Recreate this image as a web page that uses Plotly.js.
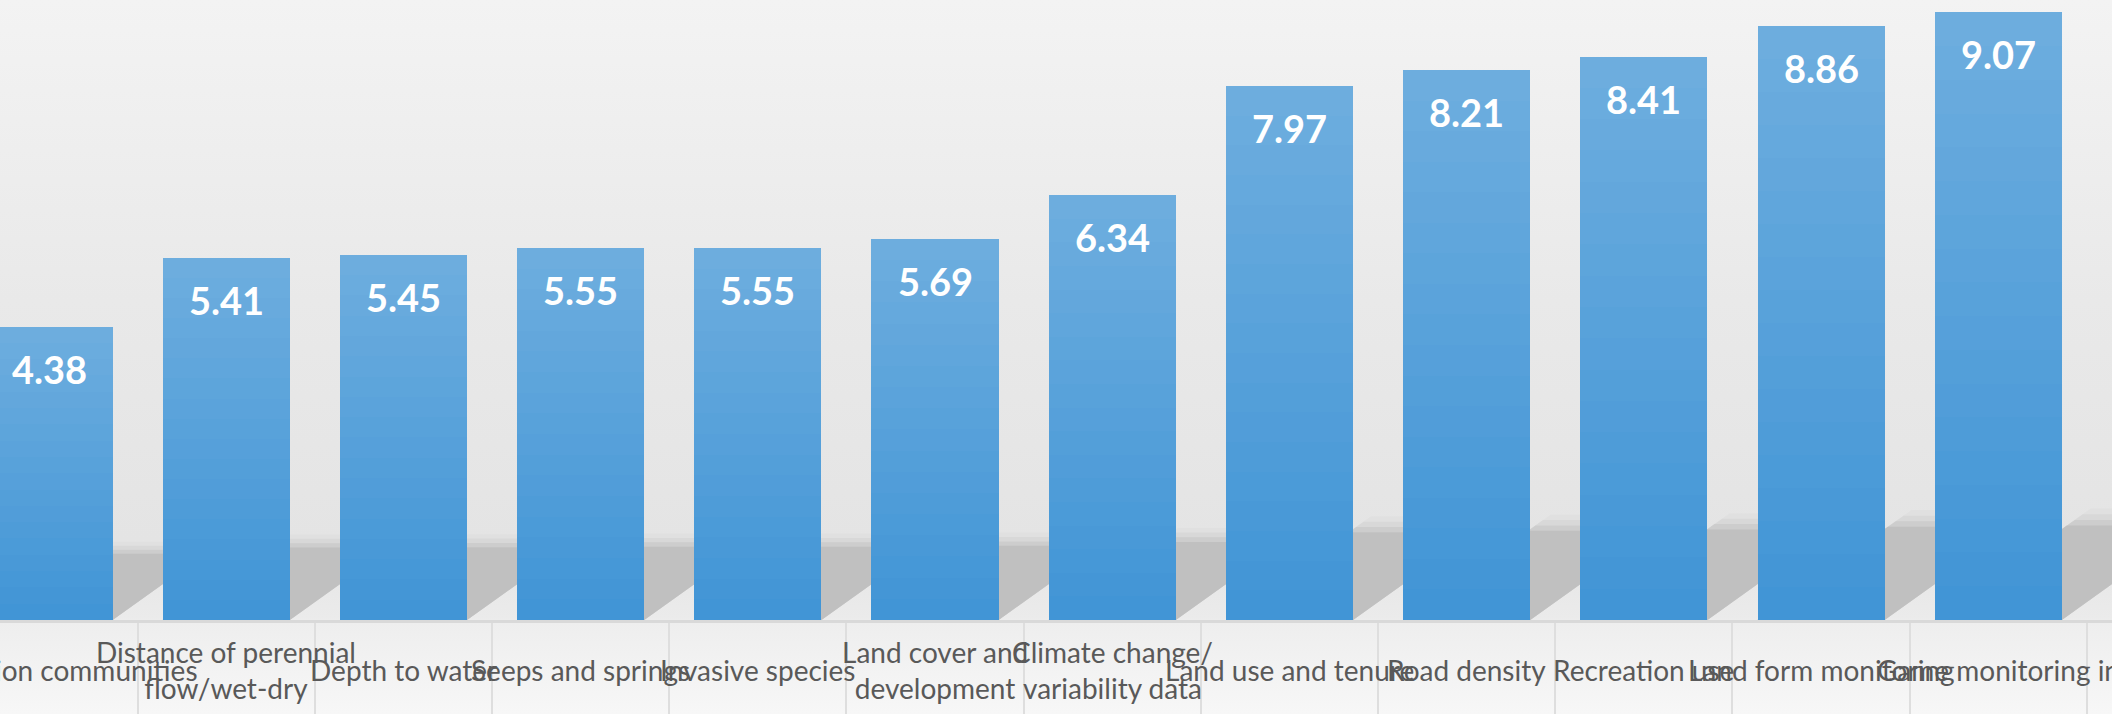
<!DOCTYPE html>
<html>
<head>
<meta charset="utf-8">
<script src="https://cdn.plot.ly/plotly-3.0.1.min.js"></script>
<style>
  html, body { margin: 0; padding: 0; }
  #chart {
    width: 2112px; height: 714px;
    background: linear-gradient(to bottom, #f3f3f3 0px, #e9e9e9 300px, #e4e4e4 540px, #ebebeb 618px, #eeeeee 623px, #f7f7f7 714px);
  }
</style>
</head>
<body>
<div id="chart"></div>
<script>
// ---- data ----
const categories = [
  "Vegetation communities",
  "Distance of perennial flow/wet-dry",
  "Depth to water",
  "Seeps and springs",
  "Invasive species",
  "Land cover and development",
  "Climate change/variability data",
  "Land use and tenure",
  "Road density",
  "Recreation use",
  "Land form monitoring",
  "Game monitoring in"
];
const tickLabels = [
  "Vegetation communities",
  "Distance of perennial<br>flow/wet-dry",
  "Depth to water",
  "Seeps and springs",
  "Invasive species",
  "Land cover and<br>development",
  "Climate change/<br>variability data",
  "Land use and tenure",
  "Road density",
  "Recreation use",
  "Land form monitoring",
  "Game monitoring in"
];
const values = [4.38, 5.41, 5.45, 5.55, 5.55, 5.69, 6.34, 7.97, 8.21, 8.41, 8.86, 9.07];
const valueLabels = ["4.38", "5.41", "5.45", "5.55", "5.55", "5.69", "6.34", "7.97", "8.21", "8.41", "8.86", "9.07"];

// ---- styling ----
const W = 2112, H = 714, B = 94;
const plotH = H - B;
const yMax = 9.254;
const xRange = [-0.2765, 11.642];
const pxPerX = W / (xRange[1] - xRange[0]);
const pxPerY = plotH / yMax;
const bargap = 0.283;
const halfW = (1 - bargap) / 2;

// vertical gradient on each bar: stack of slices, dark at bottom, light at top
const N = 18;
const bottomRGB = [65, 149, 214], topRGB = [109, 173, 222];
const traces = [];
for (let k = 0; k < N; k++) {
  const t = k / (N - 1);
  const c = bottomRGB.map((b, j) => Math.round(b + (topRGB[j] - b) * t));
  traces.push({
    type: 'bar',
    x: categories,
    y: values.map(v => v / N),
    marker: { color: `rgb(${c[0]},${c[1]},${c[2]})`, line: { width: 0 } },
    hoverinfo: 'skip',
    showlegend: false
  });
}

// perspective shadows behind bars (derived from values)
function shadowPath(i, v, scale) {
  const hPx = (40 + 6 * v) * scale;
  const h = hPx / pxPerY;
  const dx = (1.4 * hPx) / pxPerX;
  const x0 = i - halfW, x1 = i + halfW;
  return `M ${x0} 0 L ${x1} 0 L ${x1 + dx} ${h} L ${x0 + dx} ${h} Z`;
}
const shapes = [];
[[1.18, '#e0e0e0'], [1.12, '#d8d8d8'], [1.06, '#cdcdcd'], [1.0, '#c0c0c0']].forEach(([s, col]) => {
  values.forEach((v, i) => {
    shapes.push({
      type: 'path', xref: 'x2', yref: 'y', layer: 'below',
      path: shadowPath(i, v, s),
      fillcolor: col, line: { width: 0 }
    });
  });
});

const annotations = [];
// value labels inside the top of each bar
values.forEach((v, i) => {
  annotations.push({
    x: categories[i], y: v, xref: 'x', yref: 'y',
    text: valueLabels[i], showarrow: false,
    yanchor: 'middle', yshift: -42,
    font: { family: 'Lato, "Open Sans", sans-serif', size: 38, color: '#ffffff', weight: 700 }
  });
});
// category labels below the axis, vertically centred
tickLabels.forEach((t, i) => {
  annotations.push({
    x: categories[i], y: 0, xref: 'x', yref: 'paper',
    text: t, showarrow: false,
    yanchor: 'middle', yshift: -50,
    font: { family: 'Lato, "Open Sans", sans-serif', size: 28, color: '#595959' }
  });
});

const layout = {
  width: W, height: H,
  margin: { l: 0, r: 0, t: 0, b: B, pad: 0 },
  paper_bgcolor: 'rgba(0,0,0,0)',
  plot_bgcolor: 'rgba(0,0,0,0)',
  barmode: 'stack',
  bargap: bargap,
  showlegend: false,
  xaxis: {
    type: 'category',
    range: xRange,
    showline: true, linecolor: '#d9d9d9', linewidth: 3,
    ticks: 'outside', tickson: 'boundaries', ticklen: 94, tickwidth: 2, tickcolor: '#dedede',
    showticklabels: false, showgrid: false, zeroline: false, fixedrange: true
  },
  xaxis2: {
    type: 'linear', overlaying: 'x', range: xRange, visible: false, fixedrange: true
  },
  yaxis: {
    range: [0, yMax], visible: false, showgrid: false, zeroline: false, fixedrange: true
  },
  shapes: shapes,
  annotations: annotations
};

Plotly.newPlot('chart', traces, layout, { displayModeBar: false, staticPlot: true });
</script>
</body>
</html>
